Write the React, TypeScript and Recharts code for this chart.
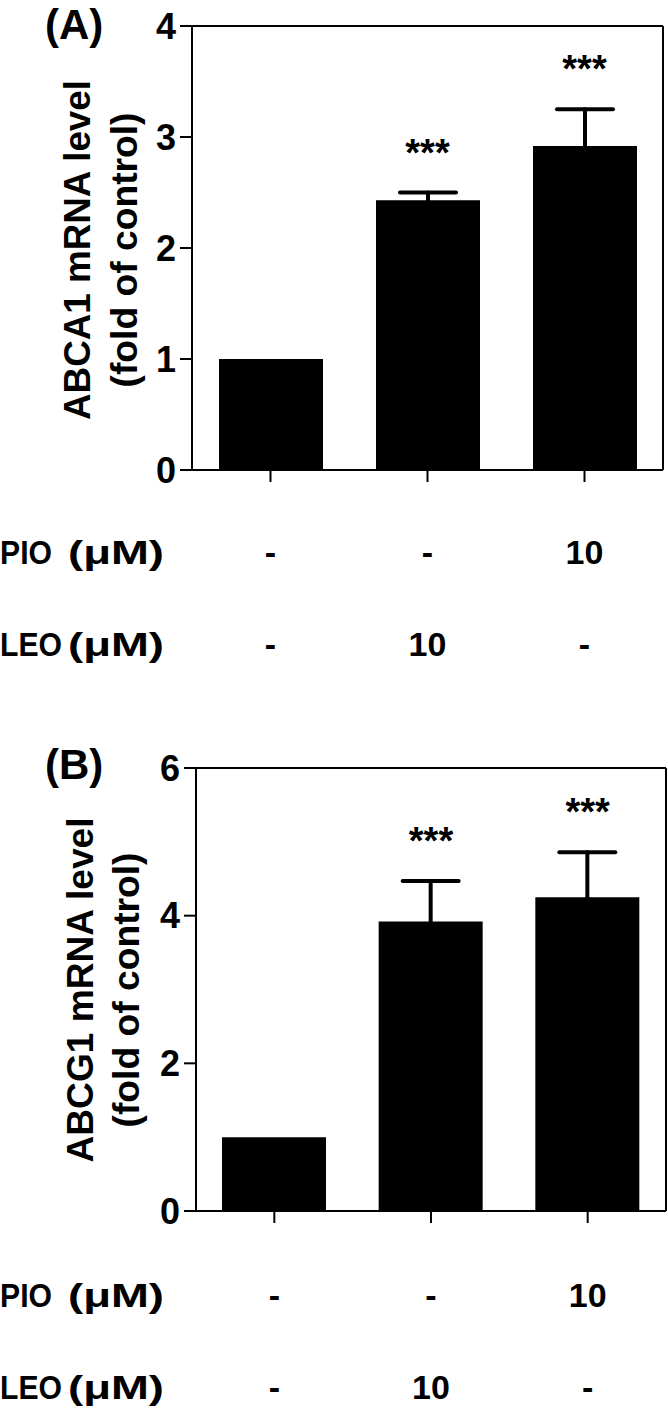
import React from 'react';
import {
  ComposedChart, Bar, Line, ErrorBar, LabelList,
  XAxis, YAxis,
} from 'recharts';

// treatment groups, left to right
const groups = ['Control', 'LEO', 'PIO'];
const pioDose = ['-', '-', '10'];
const leoDose = ['-', '10', '-'];

// panel A – ABCA1
const abca1Mean = [1, 2.43, 2.92];
const abca1Sem = [0, 0.07, 0.33];
const abca1Sig = ['', '***', '***'];
const abca1Ticks = [0, 1, 2, 3, 4];

// panel B – ABCG1
const abcg1Mean = [1, 3.92, 4.25];
const abcg1Sem = [0, 0.55, 0.61];
const abcg1Sig = ['', '***', '***'];
const abcg1Ticks = [0, 2, 4, 6];

const FONT = '"Liberation Sans", Arial, Helvetica, sans-serif';

const buildRows = (mean: number[], sem: number[], sig: string[]) =>
  groups.map((name, i) => ({
    name,
    mean: mean[i],
    err: sem[i] > 0 ? sem[i] : undefined,   // lower half hides inside the bar
    top: mean[i] + sem[i],
    sig: sig[i],
  }));

const Stars = (props: any) => {
  const { x, y, value } = props;
  if (!value) return null;
  return (
    <text x={x} y={y - 27} textAnchor="middle" fontFamily={FONT}
      fontWeight="bold" fontSize={38} fill="#000">
      {value}
    </text>
  );
};

function DoseTick({ x, payload, rowY }: any) {
  const i = groups.indexOf(payload.value);
  const common = {
    x, textAnchor: 'middle' as const, fontFamily: FONT,
    fontWeight: 'bold', fontSize: 34, fill: '#000',
  };
  return (
    <g>
      <text {...common} y={rowY[0]}>{pioDose[i]}</text>
      <text {...common} y={rowY[1]}>{leoDose[i]}</text>
    </g>
  );
}

const frame = { stroke: '#000', strokeWidth: 2 };

function Panel({
  rows, ticks, max, width, height, margin, yWidth, xHeight, rowY,
}: any) {
  return (
    <ComposedChart width={width} height={height} data={rows} margin={margin}>
      <XAxis
        dataKey="name"
        height={xHeight}
        tickSize={12}
        tickMargin={0}
        axisLine={frame}
        tickLine={frame}
        tick={<DoseTick rowY={rowY} />}
        interval={0}
      />
      <XAxis xAxisId="top" dataKey="name" orientation="top" height={1}
        tick={false} tickLine={false} axisLine={frame} />
      <YAxis
        domain={[0, max]}
        ticks={ticks}
        width={yWidth}
        tickSize={12}
        tickMargin={4}
        axisLine={frame}
        tickLine={frame}
        tick={{ fill: '#000', fontSize: 36, fontWeight: 'bold', fontFamily: FONT }}
        allowDataOverflow
      />
      <YAxis yAxisId="right" orientation="right" width={1} domain={[0, max]}
        ticks={ticks} tick={false} tickLine={false} axisLine={frame} />
      <Bar dataKey="mean" barSize={104} fill="#000" isAnimationActive={false}>
        <ErrorBar dataKey="err" width={28} strokeWidth={4} stroke="#000"
          strokeLinecap="round" direction="y" />
      </Bar>
      {/* invisible series on the frame axes: carries the significance marks */}
      <Line dataKey="top" xAxisId="top" yAxisId="right" stroke="none"
        dot={false} activeDot={false} isAnimationActive={false} legendType="none">
        <LabelList dataKey="sig" content={<Stars />} />
      </Line>
    </ComposedChart>
  );
}

const txt = { fontFamily: FONT, fontWeight: 'bold' as const, fill: '#000' };

export default function App() {
  const rowsA = buildRows(abca1Mean, abca1Sem, abca1Sig);
  const rowsB = buildRows(abcg1Mean, abcg1Sem, abcg1Sig);
  return (
    <div style={{ position: 'absolute', left: 0, top: 0, width: 668, height: 1408, background: '#fff', overflow: 'hidden' }}>
      <div style={{ position: 'absolute', left: 0, top: 0 }}>
        <Panel rows={rowsA} ticks={abca1Ticks} max={4}
          width={668} height={700}
          margin={{ top: 25, right: 4, bottom: 0, left: 0 }}
          yWidth={192} xHeight={230} rowY={[564, 656]} />
      </div>
      <div style={{ position: 'absolute', left: 0, top: 700 }}>
        <Panel rows={rowsB} ticks={abcg1Ticks} max={6}
          width={668} height={708}
          margin={{ top: 67, right: 1, bottom: 0, left: 0 }}
          yWidth={196} xHeight={197} rowY={[607, 699]} />
      </div>

      <svg width={668} height={1408}
        style={{ position: 'absolute', left: 0, top: 0, pointerEvents: 'none' }}>
        {/* panel letters */}
        <text {...txt} x={45} y={39} fontSize={42}>(A)</text>
        <text {...txt} x={45} y={779} fontSize={42}>(B)</text>

        {/* y axis titles */}
        <text {...txt} fontSize={36} textAnchor="middle" textLength={340}
          lengthAdjust="spacingAndGlyphs" transform="translate(90,250) rotate(-90)">
          ABCA1 mRNA level
        </text>
        <text {...txt} fontSize={36} textAnchor="middle" textLength={275}
          lengthAdjust="spacingAndGlyphs" transform="translate(137,250) rotate(-90)">
          (fold of control)
        </text>
        <text {...txt} fontSize={36} textAnchor="middle" textLength={345}
          lengthAdjust="spacingAndGlyphs" transform="translate(93,990) rotate(-90)">
          ABCG1 mRNA level
        </text>
        <text {...txt} fontSize={36} textAnchor="middle" textLength={275}
          lengthAdjust="spacingAndGlyphs" transform="translate(139,990) rotate(-90)">
          (fold of control)
        </text>

        {/* treatment row titles */}
        {[
          ['PIO', 564, 52], ['LEO', 656, 62], ['PIO', 1307, 52], ['LEO', 1399, 62],
        ].map(([name, y, len], k) => (
          <g key={k}>
            <text {...txt} x={0} y={y as number} fontSize={33} textLength={len as number}
              lengthAdjust="spacingAndGlyphs">{name}</text>
            <text {...txt} x={68} y={y as number} fontSize={34} textLength={96}
              lengthAdjust="spacingAndGlyphs">(μM)</text>
          </g>
        ))}
      </svg>
    </div>
  );
}
